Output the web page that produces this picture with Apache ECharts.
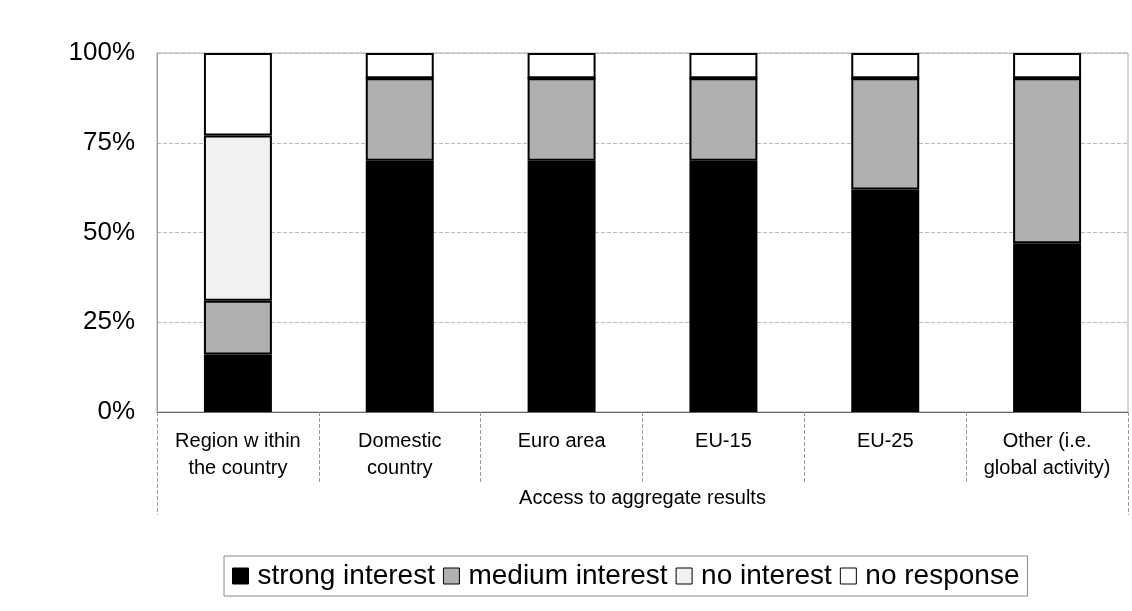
<!DOCTYPE html>
<html>
<head>
<meta charset="utf-8">
<script src="https://cdn.jsdelivr.net/npm/echarts@6/dist/echarts.min.js"></script>
<style>html,body{margin:0;padding:0;background:#fff}#c{width:1132px;height:611px}</style>
</head>
<body>
<div id="c"></div>
<script>
const categories = ['Region w ithin\nthe country', 'Domestic\ncountry', 'Euro area', 'EU-15', 'EU-25', 'Other (i.e.\nglobal activity)'];
const axisTitle = ['Access to aggregate results'];
const seriesNames = ['strong interest', 'medium interest', 'no interest', 'no response'];
const strongInterest = [16, 70, 70, 70, 62, 47];
const mediumInterest = [15, 23, 23, 23, 31, 46];
const noInterest = [46, 0, 0, 0, 0, 0];
const noResponse = [23, 7, 7, 7, 7, 7];
const yTicks = [0, 25, 50, 75, 100];

const colors = ['#000000', '#b0b0b0', '#f1f1f1', '#ffffff'];
const values = [strongInterest, mediumInterest, noInterest, noResponse];
const font = 'Liberation Sans, Arial, sans-serif';

const chart = echarts.init(document.getElementById('c'), null, {renderer: 'canvas'});
chart.setOption({
  backgroundColor: '#fff',
  animation: false,
  textStyle: {fontFamily: font, color: '#000'},
  grid: {left: 157, right: 4, top: 53, bottom: 199, show: true, borderColor: '#aaa', borderWidth: 1},
  legend: {
    data: seriesNames,
    left: 224, top: 556,
    padding: [6, 8, 6, 8],
    borderColor: '#888', borderWidth: 1,
    itemWidth: 16, itemHeight: 16, itemGap: 8,
    icon: 'rect',
    itemStyle: {borderColor: '#000', borderWidth: 1},
    textStyle: {fontSize: 28, fontFamily: font, color: '#000', padding: [0, 0, 0, 4]}
  },
  xAxis: [{
    type: 'category',
    data: categories,
    axisLine: {show: true, lineStyle: {color: '#666', width: 1}},
    axisTick: {show: true, interval: 0, length: 70, lineStyle: {color: '#999', type: 'dashed'}},
    axisLabel: {interval: 0, fontSize: 20, lineHeight: 27, margin: 16, color: '#000', fontFamily: font}
  }, {
    type: 'category',
    data: axisTitle,
    position: 'bottom',
    axisLine: {show: false},
    axisTick: {show: true, interval: 0, length: 103, lineStyle: {color: '#999', type: 'dashed'}},
    axisLabel: {interval: 0, fontSize: 20, margin: 76, color: '#000', fontFamily: font}
  }],
  yAxis: {
    type: 'value',
    min: yTicks[0], max: yTicks[yTicks.length - 1], interval: 25,
    axisLine: {show: true, lineStyle: {color: '#999'}},
    axisTick: {show: false},
    axisLabel: {formatter: '{value}%', fontSize: 26, margin: 22, color: '#000', fontFamily: font},
    splitLine: {show: true, lineStyle: {color: '#bbb', type: 'dashed'}}
  },
  series: seriesNames.map((name, i) => ({
    name: name,
    type: 'bar',
    stack: 'total',
    xAxisIndex: 0,
    barWidth: '42%',
    data: values[i],
    itemStyle: {color: colors[i], borderColor: '#000', borderWidth: 2}
  }))
});
</script>
</body>
</html>
